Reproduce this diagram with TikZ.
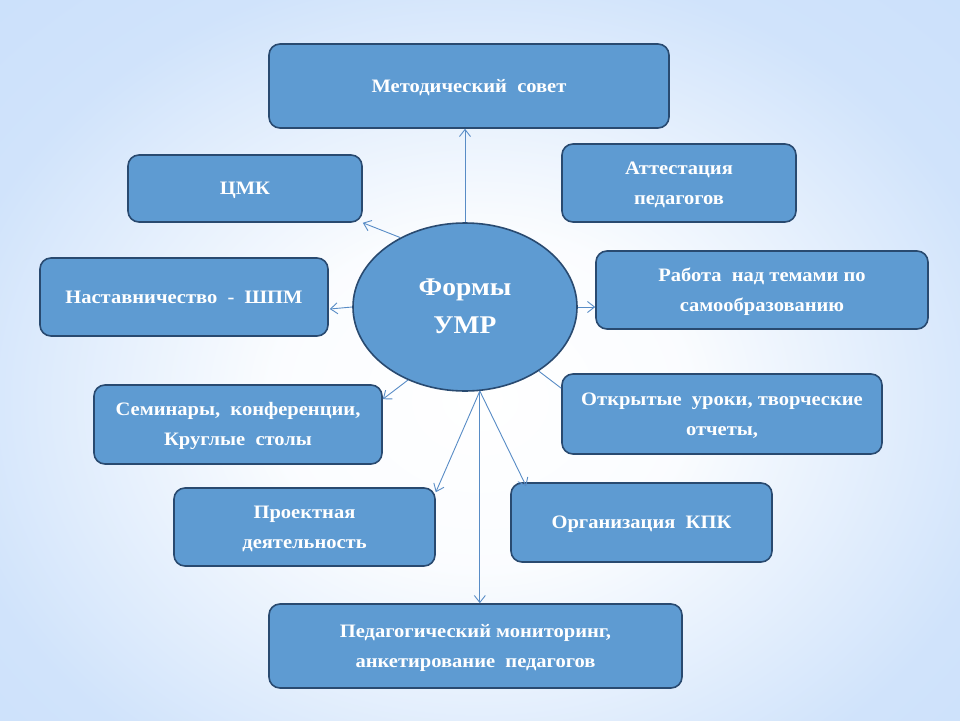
\documentclass[tikz,border=0pt]{standalone}
\usepackage{fontspec}
\setmainfont{Liberation Serif}
\newfontfamily\wideserif[FakeStretch=1.08]{Liberation Serif}
\usetikzlibrary{arrows.meta,calc,shapes.geometric,fadings}
\definecolor{boxfill}{RGB}{94,155,210}
\definecolor{boxline}{RGB}{41,74,112}
\definecolor{linkc}{RGB}{88,140,198}
\definecolor{bgblue}{RGB}{138,184,243}
\definecolor{bgmid}{RGB}{198,221,250}
\pgfdeclareradialshading{bgshade}{\pgfpoint{0bp}{0bp}}{color(0bp)=(white); color(10bp)=(white!92!bgmid); color(26bp)=(bgmid!82!white); color(43bp)=(bgmid); color(60bp)=(bgblue)}
\tikzfading[name=bandfade, top color=transparent!100, middle color=transparent!0, bottom color=transparent!100]
\newcommand\boxone[1]{\begin{tabular}{@{}c@{}}#1\end{tabular}}
\newcommand\boxtwo[2]{\raisebox{-2.5pt}{\begin{tabular}{@{}c@{}}#1\\#2\end{tabular}}}
\begin{document}
\begin{tikzpicture}[x=1pt,y=-1pt,
  box/.style={draw=boxline, line width=1.6pt, fill=boxfill, rounded corners=11pt,
    text=white, font=\wideserif\fontsize{19}{30}\selectfont\bfseries, inner sep=0pt},
  link/.style={draw=linkc, line width=0.9pt},
  arr/.style={link, -{Straight Barb[length=7pt,width=11pt]}}]
\useasboundingbox (0,0) rectangle (960,720);
\begin{scope}
  \clip (0,0) rectangle (960,720);
  \shade[shading=bgshade] (-40,-20) rectangle (1000,820);
  \fill[white, fill opacity=0.6, path fading=bandfade] (0,345) rectangle (960,435);
\end{scope}

\node[box, minimum width=400pt, minimum height=84pt] (met) at (469,86) {\boxone{Методический\ \ совет}};
\node[box, minimum width=234pt, minimum height=67pt] (cmk) at (245,188.5) {\boxone{ЦМК}};
\node[box, minimum width=234pt, minimum height=78pt] (att) at (679,183) {\boxtwo{Аттестация}{педагогов}};
\node[box, minimum width=288pt, minimum height=78pt] (nast) at (184,297) {\boxone{Наставничество\ \ -\ \ ШПМ}};
\node[box, minimum width=332pt, minimum height=78pt] (rab) at (762,290) {\boxtwo{Работа\ \ над темами по}{самообразованию}};
\node[box, minimum width=288pt, minimum height=79pt] (sem) at (238,424.5) {\boxtwo{Семинары,\ \ конференции,}{Круглые\ \ столы}};
\node[box, minimum width=320pt, minimum height=80pt] (otk) at (722,414) {\boxtwo{Открытые\ \ уроки, творческие}{отчеты,}};
\node[box, minimum width=261pt, minimum height=78pt] (proj) at (304.5,527) {\boxtwo{Проектная}{деятельность}};
\node[box, minimum width=261pt, minimum height=79pt] (org) at (641.5,522.5) {\boxone{Организация\ \ КПК}};
\node[box, minimum width=413pt, minimum height=84pt] (ped) at (475.5,646) {\boxtwo{Педагогический мониторинг,}{анкетирование\ \ педагогов}};

\node[ellipse, draw=boxline, line width=1.6pt, fill=boxfill, minimum width=224pt, minimum height=168pt,
  inner sep=0pt, text=white, font=\wideserif\fontsize{25.5}{38}\selectfont\bfseries] (E) at (465,307) {\boxtwo{Формы}{УМР}};

\coordinate (S) at (E.280);
\draw[arr] (E.north) -- (E.north |- met.south);
\draw[arr] (E.133) -- (cmk.south east);
\draw[arr] (E.west) -- ($(nast.east)+(1,12)$);
\draw[arr] (E.east) -- (E.east -| rab.west);
\draw[arr] (E.232) -- ($(sem.north east)+(0,15)$);
\draw[link] (E.319) -- ($(otk.north west)+(0,15)$);
\draw[arr] (S) -- ($(proj.north east)+(0,5)$);
\draw[arr] (S) -- ($(org.north west)+(16,4)$);
\draw[arr] (S) -- (S |- ped.north);
\end{tikzpicture}
\end{document}
